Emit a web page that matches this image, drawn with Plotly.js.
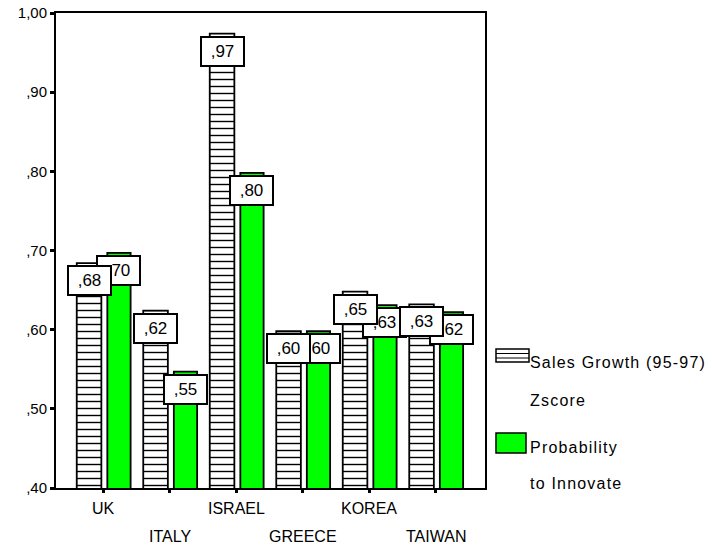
<!DOCTYPE html>
<html>
<head>
<meta charset="utf-8">
<script src="https://cdn.plot.ly/plotly-3.0.1.min.js"></script>
<style>
html,body{margin:0;padding:0;background:#fff;}
#chart{width:709px;height:549px;}
</style>
</head>
<body>
<div id="chart"></div>
<script>
// ---- data ----
var countries = ["UK", "ITALY", "ISRAEL", "GREECE", "KOREA", "TAIWAN"];
var salesGrowth = [0.684, 0.624, 0.974, 0.598, 0.648, 0.632];
var probInnovate = [0.697, 0.547, 0.798, 0.598, 0.631, 0.622];
var yTickVals = [0.4, 0.5, 0.6, 0.7, 0.8, 0.9, 1.0];
var yTickText = [",40", ",50", ",60", ",70", ",80", ",90", "1,00"];
var seriesNames = ["Sales Growth (95-97)", "Zscore", "Probability", "to Innovate"];

var FONT = "Liberation Sans, Arial, sans-serif";
var idx = countries.map(function(c, i){ return i; });
function fmt(v){ return v.toFixed(2).replace(/^0\./, ","); }

var salesOffset = -0.395, salesWidth = 0.37;
var innovOffset = 0.065, innovWidth = 0.35;

var traces = [
  {
    type: "bar", x: idx, y: salesGrowth, name: seriesNames[0] + " " + seriesNames[1],
    offset: salesOffset, width: salesWidth, base: 0,
    marker: {
      color: "#ffffff",
      line: {color: "#000000", width: 1.8},
      pattern: {shape: "-", size: 7, solidity: 0.2, fgcolor: "#000000", bgcolor: "#ffffff", fillmode: "replace"}
    },
    hoverinfo: "skip", showlegend: false
  },
  {
    type: "bar", x: idx, y: probInnovate, name: seriesNames[2] + " " + seriesNames[3],
    offset: innovOffset, width: innovWidth, base: 0,
    marker: {color: "#00ff00", line: {color: "#000000", width: 1.8}},
    hoverinfo: "skip", showlegend: false
  }
];

var annotations = [];
idx.forEach(function(i){
  [[probInnovate, innovOffset, innovWidth], [salesGrowth, salesOffset, salesWidth]].forEach(function(s){
    var v = s[0][i];
    annotations.push({
      x: i + s[1] + s[2] / 2, y: v, xref: "x", yref: "y",
      text: fmt(v), showarrow: false, yanchor: "top", xanchor: "center", yshift: -2,
      bgcolor: "#ffffff", bordercolor: "#000000", borderwidth: 2, borderpad: 0,
      width: 41, height: 27,
      font: {family: FONT, size: 17, color: "#000000"}
    });
  });
  // category labels, staggered on two rows
  annotations.push({
    x: i, y: (i % 2 === 0) ? -0.044 : -0.103, xref: "x", yref: "paper",
    text: countries[i], showarrow: false, xanchor: "center", yanchor: "middle",
    font: {family: FONT, size: 16, color: "#000000"}
  });
});

// manual legend (paper coords)
function px2x(p){ return (p - 56) / 429; }
function px2y(p){ return (488 - p) / 475; }
var legendText = [
  [seriesNames[0], 362], [seriesNames[1], 400], [seriesNames[2], 447], [seriesNames[3], 483]
];
legendText.forEach(function(t){
  annotations.push({
    x: px2x(528), y: px2y(t[1]), xref: "paper", yref: "paper",
    text: t[0], showarrow: false, xanchor: "left", yanchor: "middle",
    font: {family: FONT, size: 16, color: "#000000"}
  });
});

var shapes = [
  {type: "rect", xref: "paper", yref: "paper", x0: px2x(496), x1: px2x(529), y0: px2y(362), y1: px2y(349),
   line: {color: "#000", width: 1.5}, fillcolor: "#fff"},
  {type: "line", xref: "paper", yref: "paper", x0: px2x(496), x1: px2x(529), y0: px2y(353.5), y1: px2y(353.5),
   line: {color: "#000", width: 1}},
  {type: "line", xref: "paper", yref: "paper", x0: px2x(496), x1: px2x(529), y0: px2y(358), y1: px2y(358),
   line: {color: "#000", width: 1}},
  {type: "rect", xref: "paper", yref: "paper", x0: px2x(496), x1: px2x(526), y0: px2y(453), y1: px2y(433),
   line: {color: "#000", width: 1.5}, fillcolor: "#00ff00"}
];

var layout = {
  width: 709, height: 549,
  margin: {l: 56, r: 224, t: 13, b: 61, pad: 0},
  paper_bgcolor: "#ffffff", plot_bgcolor: "#ffffff",
  showlegend: false,
  font: {family: FONT, size: 14, color: "#000000"},
  barmode: "overlay",
  xaxis: {
    range: [-0.707, 5.744], tickvals: idx, ticktext: countries.map(function(){ return ""; }),
    showgrid: false, zeroline: false, showline: true, mirror: true, linecolor: "#000", linewidth: 2,
    ticks: "outside", ticklen: 3, tickwidth: 3, tickcolor: "#000", fixedrange: true
  },
  yaxis: {
    range: [0.4, 1.0], tickvals: yTickVals, ticktext: yTickText,
    showgrid: false, zeroline: false, showline: true, mirror: true, linecolor: "#000", linewidth: 2,
    ticks: "outside", ticklen: 4, tickwidth: 3, tickcolor: "#000",
    tickfont: {family: FONT, size: 15, color: "#000"}, fixedrange: true
  },
  annotations: annotations,
  shapes: shapes
};

Plotly.newPlot("chart", traces, layout, {displayModeBar: false, staticPlot: true}).then(function(gd){
  // SPSS-style loose letter spacing on the legend texts, keeping the left edge fixed
  gd.querySelectorAll(".annotation-text").forEach(function(t){
    if (seriesNames.indexOf(t.textContent) < 0) return;
    var left = t.getBBox().x;
    t.style.letterSpacing = "1.2px";
    var shift = left - t.getBBox().x;
    t.setAttribute("transform", "translate(" + shift + ",0)");
  });
});
</script>
</body>
</html>
